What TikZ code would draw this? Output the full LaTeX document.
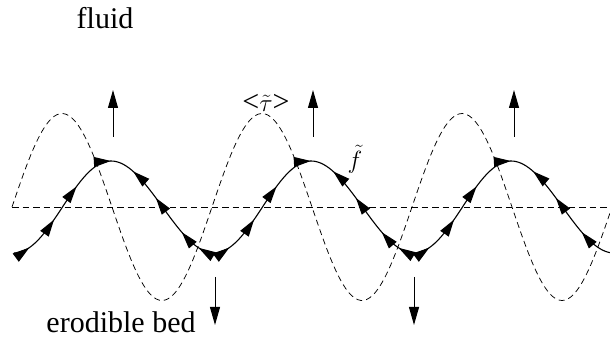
\documentclass[tikz,border=0pt]{standalone}
\usepackage{fontspec}
\setmainfont{Liberation Serif}
\usetikzlibrary{arrows.meta, decorations.markings}
\tikzset{
  lbl/.style={font=\fontsize{30}{36}\selectfont, inner sep=0pt},
  mathlbl/.style={font=\fontsize{34}{40}\selectfont, inner sep=0pt},
  fluxtip/.tip={Triangle[length=17pt,width=10pt]},
  pushtip/.tip={Triangle[length=18pt,width=10pt]},
  bedline/.style={line width=1.1pt},
  meanline/.style={line width=0.8pt, dash pattern=on 6.5pt off 4pt},
  stressline/.style={line width=0.75pt, dash pattern=on 6pt off 4pt},
  push/.style={line width=1pt, -pushtip},
  rise/.style={postaction={decorate, decoration={markings,
      mark=at position 0.12 with {\arrow{fluxtip}},
      mark=at position 0.39 with {\arrow{fluxtip}},
      mark=at position 0.68 with {\arrow{fluxtip}},
      mark=at position 0.999 with {\arrow{fluxtip}}}}},
  fall/.style={postaction={decorate, decoration={markings,
      mark=at position -103pt with {\arrow{fluxtip}},
      mark=at position -60pt with {\arrow{fluxtip}},
      mark=at position -25pt with {\arrow{fluxtip}}}}},
  trough/.style={postaction={decorate, decoration={markings,
      mark=at position -126pt with {\arrow{fluxtip}}}}}
}

\begin{document}
\begin{tikzpicture}[x=1pt, y=1pt]
  \useasboundingbox (0,0) rectangle (610,339);
  \node[lbl, anchor=base] (fluid) at (105,310) {fluid};
  \node[lbl, anchor=base] (bed) at (121,6) {erodible bed};
  \node[mathlbl] (tau) at (266,236) {\fontsize{30}{36}\selectfont<$\tilde{\tau}$>};
  \node[mathlbl] (flux) at (355,180) {$\tilde{f}$};

  % mean level and stress
  \coordinate (west) at (12,132);
  \coordinate (east) at (610,132);
  \draw[meanline] (west) -- (east);
  \draw[stressline] plot[domain=12:610, samples=200, smooth] (\x, {132+93.5*sin((\x-12)*1.8)});

  % bed profile with flux arrows
  \foreach \k in {0,1,2} {
    \pgfmathsetmacro{\xo}{14+200*\k}
    \draw[bedline, rise] plot[domain=0:180, samples=40] ({\xo+\x/1.8-1.5*(1-cos(\x))}, {132-46*cos(\x)});
  }
  \foreach \k/\s/\t in {0/0/trough, 1/0/trough, 2/7/bedline} {
    \pgfmathsetmacro{\xo}{14+200*\k}
    \draw[bedline, fall, \t] plot[domain=\s:180, samples=40] ({\xo+(360-\x)/1.8-1.5*(1-cos(\x))}, {132-46*cos(\x)});
  }

  % vertical motion of the bed
  \foreach \x [count=\i] in {113,313,514} {
    \coordinate (lift\i) at (\x,202);
    \coordinate (lifttip\i) at (\x,249);
    \draw[push] (lift\i) -- (lifttip\i);
  }
  \foreach \x [count=\i] in {215,414} {
    \coordinate (sink\i) at (\x,62);
    \coordinate (sinktip\i) at (\x,14);
    \draw[push] (sink\i) -- (sinktip\i);
  }
\end{tikzpicture}
\end{document}
